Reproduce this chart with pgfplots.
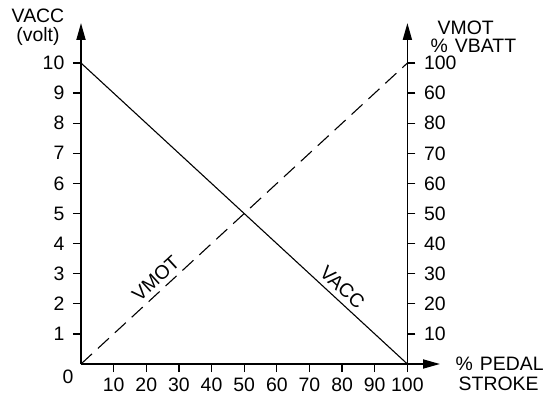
\documentclass[border=0pt]{standalone}
\usepackage{pgfplots}
\pgfplotsset{compat=1.18}
\usepackage{fontspec}
\setmainfont{Liberation Sans}
\usetikzlibrary{arrows.meta}
\begin{document}
\begin{tikzpicture}
\fontsize{19.5}{19.5}\selectfont
\useasboundingbox (-81bp,-32bp) rectangle (468bp,364bp);
\begin{axis}[
  at={(0,0)}, anchor=south west,
  scale only axis, width=359bp, height=341bp,
  xmin=0, xmax=110, ymin=0, ymax=11.33,
  axis x line=bottom, axis y line=left,
  axis line style={line width=1.8bp, -{Triangle[length=17bp,width=9bp]}},
  xtick={10,20,...,100}, ytick={1,2,...,10},
  tick align=outside, major tick length=8bp,
  tick style={line width=1.3bp, black},
  /pgf/number format/assume math mode=true,
  tick label style={font=\fontsize{19.5}{19.5}\selectfont},
  yticklabel style={xshift=-2bp},
  xticklabel style={yshift=1bp},
  clip=false,
]
\addplot[black, line width=1.1bp] coordinates {(0,10) (100,0)}
  node[pos=0.775, sloped, above, inner sep=5bp, font=\fontsize{19.5}{19.5}\selectfont] {VACC};
\end{axis}
\begin{axis}[
  at={(0,0)}, anchor=south west,
  scale only axis, width=326.4bp, height=341bp,
  xmin=0, xmax=100, ymin=0, ymax=113.3,
  axis y line=right, axis x line=none,
  axis line style={line width=1.8bp, -{Triangle[length=17bp,width=9bp]}},
  ytick={10,20,...,100},
  yticklabels={10,20,30,40,50,60,70,80,60,100},
  tick align=outside, major tick length=8bp,
  tick style={line width=1.3bp, black},
  tick label style={font=\fontsize{19.5}{19.5}\selectfont},
  yticklabel style={xshift=2bp},
  clip=false,
]
\addplot[black, line width=1.1bp, dash pattern=on 15bp off 8bp] coordinates {(0,0) (100,100)}
  node[pos=0.255, sloped, above, inner sep=5bp, font=\fontsize{19.5}{19.5}\selectfont] {VMOT};
\end{axis}
\node at (-13bp,-13bp) {0};
\node[align=center] at (-43bp,337bp) {VACC\\(volt)};
\node[anchor=west] at (350bp,336.5bp) {VMOT};
\node[anchor=west] at (343bp,318bp) {\%\hspace{7bp}VBATT};
\node[anchor=west] at (368bp,0bp) {\%\hspace{7bp}PEDAL};
\node[anchor=west] at (371bp,-20bp) {STROKE};
\end{tikzpicture}
\end{document}
